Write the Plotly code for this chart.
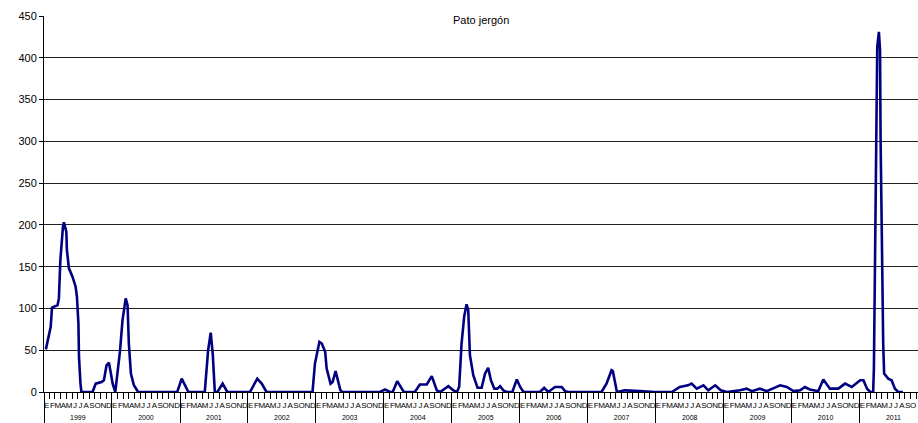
import plotly.graph_objects as go

fechas = [
    "1999-01-11", "1999-02-06", "1999-02-13", "1999-03-15", "1999-03-22", "1999-03-30",
    "1999-04-13", "1999-04-18", "1999-05-01", "1999-05-04", "1999-05-15", "1999-06-03",
    "1999-06-20", "1999-06-27", "1999-07-05", "1999-07-08", "1999-07-16", "1999-07-21",
    "1999-09-19", "1999-10-06", "1999-11-06", "1999-11-19", "1999-12-03", "1999-12-16",
    "1999-12-25",
    "2000-01-05", "2000-01-19", "2000-01-30", "2000-02-13", "2000-02-27", "2000-03-15",
    "2000-03-25", "2000-04-01", "2000-04-12", "2000-04-28", "2000-05-21", "2000-12-17",
    "2001-01-10", "2001-02-15", "2001-05-14", "2001-06-01", "2001-06-15", "2001-06-26",
    "2001-07-07", "2001-07-21", "2001-08-18", "2001-09-12",
    "2002-01-12", "2002-02-20", "2002-03-16", "2002-04-11", "2002-12-14", "2002-12-27",
    "2003-01-20", "2003-02-02", "2003-02-20", "2003-02-28", "2003-03-21", "2003-04-01",
    "2003-04-17", "2003-04-30", "2003-05-13", "2003-05-24", "2003-12-11",
    "2004-01-08", "2004-02-04", "2004-02-18", "2004-03-13", "2004-04-18", "2004-06-16",
    "2004-07-13", "2004-08-19", "2004-09-15", "2004-10-12", "2004-10-30", "2004-12-13",
    "2005-01-09", "2005-01-28", "2005-02-09", "2005-02-22", "2005-03-08", "2005-03-21",
    "2005-03-30", "2005-04-08", "2005-04-26", "2005-05-19", "2005-06-10", "2005-06-28",
    "2005-07-15", "2005-07-30", "2005-08-17", "2005-09-02", "2005-09-17", "2005-10-04",
    "2005-10-23", "2005-11-22", "2005-12-16",
    "2006-01-03", "2006-01-21", "2006-04-19", "2006-05-12", "2006-06-03", "2006-07-09",
    "2006-08-14", "2006-09-01", "2006-09-19",
    "2007-03-16", "2007-04-12", "2007-05-09", "2007-05-16", "2007-06-07", "2007-07-19",
    "2007-10-08", "2007-12-28",
    "2008-03-28", "2008-05-10", "2008-06-23", "2008-07-12", "2008-08-09", "2008-09-14",
    "2008-10-10", "2008-11-16", "2008-12-16",
    "2009-01-18", "2009-03-29", "2009-05-04", "2009-06-01", "2009-07-14", "2009-08-20",
    "2009-10-31", "2009-12-06",
    "2010-01-11", "2010-02-16", "2010-03-13", "2010-04-09", "2010-05-24", "2010-06-20",
    "2010-07-26", "2010-09-09", "2010-10-15", "2010-11-20",
    "2011-01-04", "2011-01-22", "2011-02-10", "2011-02-28", "2011-03-15", "2011-03-19",
    "2011-03-24", "2011-03-30", "2011-04-06", "2011-04-15", "2011-04-21", "2011-04-24",
    "2011-04-30", "2011-05-08", "2011-05-13", "2011-06-04", "2011-06-22", "2011-07-10",
    "2011-07-28", "2011-08-22",
]
valores = [
    51, 78, 101, 104, 112, 158,
    198, 203, 192, 170, 148, 138,
    126, 114, 82, 42, 10, 0,
    0, 10, 12, 14, 32, 35,
    24,
    10, 0, 22, 48, 86, 112,
    104, 58, 22, 8, 0, 0,
    16, 0, 0, 50, 71, 45,
    0, 0, 10, 0,
    0, 16, 10, 0, 0, 34,
    60, 58, 48, 28, 10, 12,
    25, 14, 2, 0, 0,
    3, 0, 0, 13, 0, 0,
    9, 9, 19, 2, 0, 7,
    2, 0, 6, 58, 90, 105,
    98, 44, 20, 5, 5, 22,
    29, 14, 4, 4, 7, 2,
    0, 0, 15,
    6, 0, 0, 5, 0, 6,
    6, 1, 0,
    0, 10, 26, 25, 0, 2,
    1, 0,
    0, 6, 8, 10, 4, 8,
    2, 8, 2,
    0, 2, 4, 1, 4, 1,
    8, 6,
    1, 2, 6, 3, 1, 15,
    4, 4, 10, 6,
    14, 14, 4, 0, 0, 28,
    130, 278, 413, 431, 409, 302,
    174, 58, 22, 16, 14, 4,
    0, 0,
]

titulo = "Pato jergón"
meses = ["E", "F", "M", "A", "M", "J", "J", "A", "S", "O", "N", "D"]
anios = list(range(1999, 2012))
fin_eje = "2011-11-11"
y_ticks = list(range(0, 451, 50))

# Axis helper positions (month starts, month middles, year starts, year middles)
inicio_mes = [f"{a}-{m:02d}-01" for a in anios for m in range(1, 13) if f"{a}-{m:02d}-01" <= fin_eje]
medio_mes = [f"{a}-{m:02d}-16" for a in anios for m in range(1, 13) if f"{a}-{m:02d}-16" <= fin_eje]
texto_mes = [meses[int(d[5:7]) - 1] for d in medio_mes]
inicio_anio = [f"{a}-01-01" for a in anios]
medio_anio = [f"{a}-07-02" for a in anios]
texto_anio = [str(a) for a in anios]

fig = go.Figure()
fig.add_trace(go.Scatter(
    x=fechas, y=valores, mode="lines",
    line=dict(color="#000080", width=2.6),
    showlegend=False, hoverinfo="x+y",
))

rango = ["1999-01-01", fin_eje]
FAM = "Liberation Sans, Arial, sans-serif"

fig.update_layout(
    width=918, height=423,
    margin=dict(l=44, r=0, t=16, b=31, autoexpand=False),
    paper_bgcolor="white", plot_bgcolor="white",
    font=dict(family=FAM, color="black"),
    showlegend=False,
    xaxis=dict(
        type="date", range=rango, tickmode="array", tickvals=inicio_mes,
        ticks="outside", ticklen=6, tickcolor="black", tickwidth=1,
        showticklabels=False, showgrid=False, zeroline=False, automargin=False,
        showline=True, linecolor="black", linewidth=1,
    ),
    xaxis2=dict(
        type="date", range=rango, overlaying="x", anchor="y", side="bottom",
        tickmode="array", tickvals=medio_mes, ticktext=texto_mes, tickangle=0,
        ticks="outside", ticklen=5, tickcolor="rgba(0,0,0,0)", automargin=False,
        tickfont=dict(size=8, family=FAM, color="black"),
        showgrid=False, zeroline=False, showline=False,
    ),
    xaxis3=dict(
        type="date", range=rango, overlaying="x", anchor="y", side="bottom",
        tickmode="array", tickvals=inicio_anio, showticklabels=False,
        ticks="outside", ticklen=35, tickcolor="black", tickwidth=1, automargin=False,
        showgrid=False, zeroline=False, showline=False,
    ),
    xaxis4=dict(
        type="date", range=rango, overlaying="x", anchor="y", side="bottom",
        tickmode="array", tickvals=medio_anio, ticktext=texto_anio, tickangle=0,
        ticks="outside", ticklen=19, tickcolor="rgba(0,0,0,0)", automargin=False,
        tickfont=dict(size=7, family=FAM, color="black"),
        showgrid=False, zeroline=False, showline=False,
    ),
    yaxis=dict(
        range=[0, 450], tickmode="array", tickvals=y_ticks, automargin=False,
        ticks="outside", ticklen=4, tickcolor="black",
        tickfont=dict(size=11, family=FAM, color="black"),
        showgrid=True, gridcolor="#222222", gridwidth=1,
        zeroline=False, showline=True, linecolor="black", linewidth=1,
    ),
    annotations=[dict(
        text=titulo, xref="paper", yref="paper", x=0.5, y=1,
        yanchor="middle", yshift=-4, showarrow=False,
        font=dict(size=11, family=FAM, color="black"),
    )],
)

# invisible traces so the overlaying helper axes are rendered
for ax in ["x2", "x3", "x4"]:
    fig.add_trace(go.Scatter(x=[fechas[0]], y=[0], xaxis=ax, yaxis="y",
                             mode="markers", marker=dict(opacity=0),
                             showlegend=False, hoverinfo="skip"))

fig.write_html(
    "out.html",
    config={"displayModeBar": False},
    post_script="document.body.style.margin='0';document.body.style.overflow='hidden';",
)
